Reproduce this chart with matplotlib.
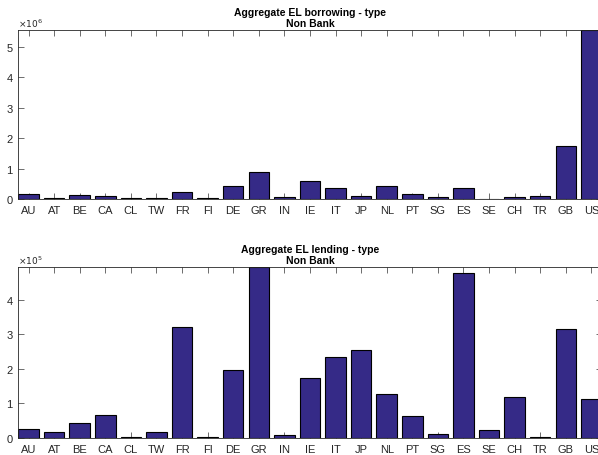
import numpy as np
import matplotlib
matplotlib.use("Agg")
from matplotlib import pyplot as plt

countries = ["AU", "AT", "BE", "CA", "CL", "TW", "FR", "FI", "DE", "GR", "IN",
             "IE", "IT", "JP", "NL", "PT", "SG", "ES", "SE", "CH", "TR", "GB", "US"]

# values in units of 1e6
borrowing = [0.16, 0.03, 0.14, 0.09, 0.02, 0.02, 0.24, 0.02, 0.42, 0.88, 0.08,
             0.59, 0.37, 0.10, 0.44, 0.15, 0.05, 0.35, 0.015, 0.06, 0.09, 1.75, 5.55]

# values in units of 1e5
lending = [0.27, 0.18, 0.44, 0.67, 0.02, 0.17, 3.21, 0.02, 1.97, 4.94, 0.09,
           1.75, 2.34, 2.54, 1.27, 0.64, 0.11, 4.77, 0.23, 1.18, 0.03, 3.16, 1.13]

plt.rcParams['font.family'] = ['Liberation Sans', 'DejaVu Sans']

bar_color = "#352a87"
axis_color = "#262626"

fig = plt.figure(figsize=(5.98, 4.56), dpi=100)


def draw_panel(ax, values, scale, title):
    x = np.arange(1, len(countries) + 1)
    vals = np.array(values) * 10.0 ** scale
    ax.bar(x, vals, width=0.8, color=bar_color, edgecolor="black", linewidth=0.8)
    ax.set_xlim(0.6, len(countries) + 0.4)
    ax.set_ylim(0, vals.max())
    ax.set_xticks(x)
    ax.set_xticklabels(countries)
    ax.set_axisbelow(True)
    ax.tick_params(direction="in", length=4, width=0.6, color="#555555",
                   labelsize=8, labelcolor=axis_color, top=True, right=True, pad=4)
    ax.yaxis.set_major_formatter(plt.FuncFormatter(
        lambda v, p: "%g" % round(v / 10.0 ** scale, 6)))
    for s in ax.spines.values():
        s.set_color(axis_color)
        s.set_linewidth(0.6)
    ax.text(0.0, 1.005, r"$\times10^{%d}$" % scale, transform=ax.transAxes,
            fontsize=6.5, color=axis_color, ha="left", va="bottom")
    ax.set_title(title, fontsize=7.5, fontweight="bold", pad=3, linespacing=1.1)


ax1 = fig.add_axes([0.0306, 0.5614, 0.9755, 0.3706])
draw_panel(ax1, borrowing, 6, "Aggregate EL borrowing - type\nNon Bank")

ax2 = fig.add_axes([0.0306, 0.0373, 0.9755, 0.3743])
draw_panel(ax2, lending, 5, "Aggregate EL lending - type\nNon Bank")

fig.savefig("out.png", dpi=100)
